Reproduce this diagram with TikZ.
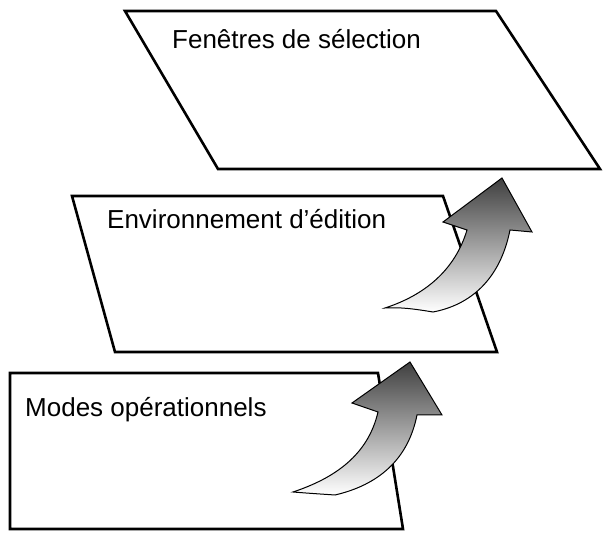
\documentclass[tikz,border=0pt]{standalone}
\usepackage{fontspec}
\setmainfont{Liberation Sans}
\begin{document}
\begin{tikzpicture}[x=1pt,y=-1pt,
  plane/.style={draw=black,line width=2.6pt,fill=white,line join=miter},
  arr/.style={draw=black,line width=1pt,top color=black!75,bottom color=white,line join=miter},
  lbl/.style={anchor=base west,inner sep=0pt,font=\fontsize{26}{30}\selectfont}]
\useasboundingbox (0,0) rectangle (606,534);
\draw[plane] (125,11) -- (496,11) -- (600,169) -- (218,169) -- cycle;
\node[lbl] (t1) at (172,49) {Fenêtres de sélection};
\draw[plane] (72,196) -- (443,196) -- (497,352) -- (115,352) -- cycle;
\node[lbl] (t2) at (107,229) {Environnement d’édition};
\draw[arr] (385,308) .. controls (425,295) and (455,270) .. (467,230)
  -- (443,222) -- (502,178) -- (532,232) -- (510,230)
  .. controls (500,280) and (470,305) .. (433,312)
  .. controls (415,309) and (400,307) .. cycle;
\draw[plane] (10,373) -- (378,373) -- (403,529) -- (10,529) -- cycle;
\node[lbl] (t3) at (25,417) {Modes opérationnels};
\draw[arr] (293,492) .. controls (335,478) and (368,455) .. (378,412)
  -- (352,403) -- (410,362) -- (442,415) -- (417,415)
  .. controls (408,460) and (378,485) .. (335,495)
  .. controls (320,494) and (305,493) .. cycle;
\end{tikzpicture}
\end{document}
